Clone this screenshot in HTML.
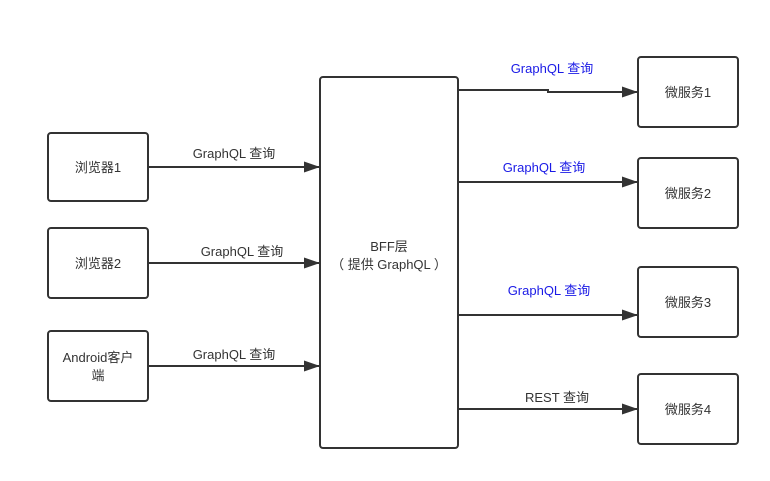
<!DOCTYPE html>
<html><head><meta charset="utf-8"><style>
body{margin:0;background:#fff}
svg{display:block;font-family:"Liberation Sans","Noto Sans CJK SC",sans-serif;font-size:13px}
</style></head><body>
<svg width="770" height="481" viewBox="0 0 770 481">
<defs><marker id="ah" markerWidth="16" markerHeight="11" refX="16" refY="5.5" orient="auto" markerUnits="userSpaceOnUse"><path d="M0,0 L16,5.5 L0,11 Z" fill="#333"/></marker></defs>
<g fill="none" stroke="#333" stroke-width="2">
<rect x="48" y="133" width="100" height="68" rx="3"/>
<rect x="48" y="228" width="100" height="70" rx="3"/>
<rect x="48" y="331" width="100" height="70" rx="3"/>
<rect x="320" y="77" width="138" height="371" rx="3"/>
<rect x="638" y="57" width="100" height="70" rx="3"/>
<rect x="638" y="158" width="100" height="70" rx="3"/>
<rect x="638" y="267" width="100" height="70" rx="3"/>
<rect x="638" y="374" width="100" height="70" rx="3"/>
<path d="M148,167 H320" marker-end="url(#ah)"/>
<path d="M148,263 H320" marker-end="url(#ah)"/>
<path d="M148,366 H320" marker-end="url(#ah)"/>
<path d="M458,90 H548 V92 H638" marker-end="url(#ah)"/>
<path d="M458,182 H638" marker-end="url(#ah)"/>
<path d="M458,315 H638" marker-end="url(#ah)"/>
<path d="M458,409 H638" marker-end="url(#ah)"/>
</g>
<g fill="#333" text-anchor="middle">
<text x="98" y="172">浏览器1</text>
<text x="98" y="268">浏览器2</text>
<text x="98" y="362">Android客户</text>
<text x="98" y="380">端</text>
<text x="389" y="251">BFF层</text>
<text x="389" y="269">（ 提供 GraphQL ）</text>
<text x="688" y="97">微服务1</text>
<text x="688" y="198">微服务2</text>
<text x="688" y="307">微服务3</text>
<text x="688" y="414">微服务4</text>
<text x="234" y="158">GraphQL 查询</text>
<text x="242" y="256">GraphQL 查询</text>
<text x="234" y="359">GraphQL 查询</text>
<text x="557" y="402">REST 查询</text>
</g>
<g fill="#1a1ae6" text-anchor="middle">
<text x="552" y="73">GraphQL 查询</text>
<text x="544" y="172">GraphQL 查询</text>
<text x="549" y="295">GraphQL 查询</text>
</g>
</svg>
</body></html>
